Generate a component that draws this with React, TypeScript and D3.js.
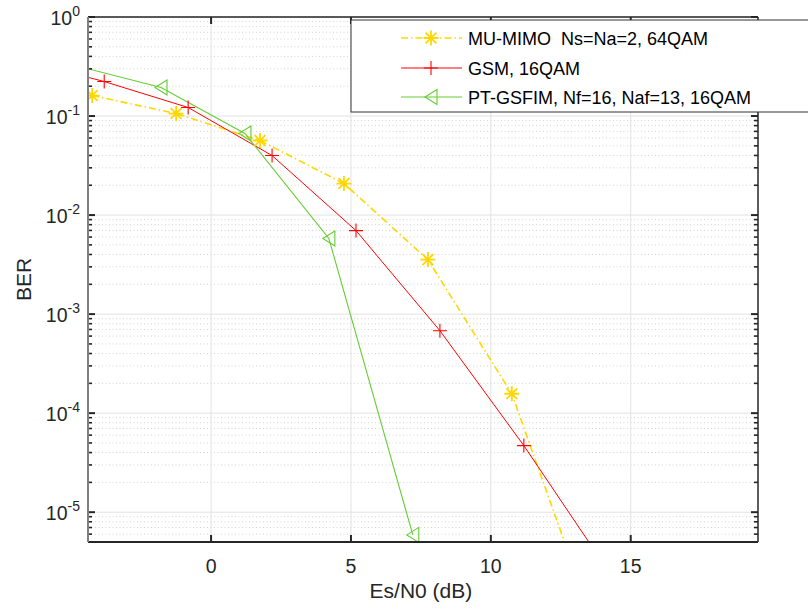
import React from "react";
import * as d3 from "d3";

// ---- data ----
const snrMU = [-4.25, -1.25, 1.75, 4.75, 7.75, 10.75, 13.75];
const berMU = [0.161, 0.106, 0.0566, 0.0208, 0.00355, 1.57e-4, 6.5e-7];

const snrGSM = [-6.82, -3.82, -0.82, 2.18, 5.18, 8.18, 11.18, 14.18];
const berGSM = [0.37, 0.223, 0.122, 0.0399, 0.00697, 6.8e-4, 4.7e-5, 2.6e-6];

const snrPT = [-4.79, -1.79, 1.21, 4.21, 7.21];
const berPT = [0.32, 0.194, 0.0666, 0.0058, 5.9e-6];

const xTicks = [0, 5, 10, 15];
const yExps = [0, -1, -2, -3, -4, -5];
const legendLabels = [
  "MU-MIMO  Ns=Na=2, 64QAM",
  "GSM, 16QAM",
  "PT-GSFIM, Nf=16, Naf=13, 16QAM",
];

const W = 808;
const H = 610;
const L = 88, R = 758, T = 17, B = 542;
const FONT = "'Liberation Sans', Arial, Helvetica, sans-serif";

const x = d3.scaleLinear().domain([-4.4, 19.55]).range([L, R]);
const y = d3.scaleLog().domain([5e-6, 1]).range([B, T]);

const YELLOW = "#FFD700";
const RED = "#FF0000";
const GREEN = "#66CC33";

function starPath(r: number) {
  const d = r * 0.72;
  return `M${-r},0H${r}M0,${-r}V${r}M${-d},${-d}L${d},${d}M${-d},${d}L${d},${-d}`;
}
function plusPath(r: number) {
  return `M${-r},0H${r}M0,${-r}V${r}`;
}
function triLeftPath() {
  return `M-6,0L6,-7.5L6,7.5Z`;
}

type Series = {
  xs: number[];
  ys: number[];
  color: string;
  dash?: string;
  width: number;
  marker: string;
  mfill: string;
  mwidth: number;
};

const series: Series[] = [
  { xs: snrMU, ys: berMU, color: YELLOW, dash: "7,3,1.5,3", width: 1.6, marker: starPath(7.5), mfill: "none", mwidth: 1.8 },
  { xs: snrGSM, ys: berGSM, color: RED, width: 1, marker: plusPath(7), mfill: "none", mwidth: 1.1 },
  { xs: snrPT, ys: berPT, color: GREEN, width: 1.1, marker: triLeftPath(), mfill: "none", mwidth: 1.1 },
];

export default function App() {
  const line = d3
    .line<[number, number]>()
    .x((d) => x(d[0]))
    .y((d) => y(d[1]));

  const minor: number[] = [];
  for (let e = -6; e <= 0; e++) {
    for (let m = 2; m <= 9; m++) {
      const v = m * Math.pow(10, e);
      if (v >= 5e-6 && v <= 1) minor.push(v);
    }
  }

  const legX0 = 351, legY0 = 20, legY1 = 112;
  const rowY = [38, 68, 97];

  return (
    <div style={{ position: "absolute", left: 0, top: 0 }}>
      <svg width={W} height={H} style={{ display: "block", background: "#fff" }} fontFamily={FONT}>
        <defs>
          <clipPath id="plotclip">
            <rect x={L} y={T} width={R - L} height={B - T} />
          </clipPath>
        </defs>
        <rect x={0} y={0} width={W} height={H} fill="#fff" />
        {minor.map((v, i) => (
          <line key={"mg" + i} x1={L} x2={R} y1={y(v)} y2={y(v)} stroke="#c8c8c8" strokeWidth={0.8} strokeDasharray="1,2.5" />
        ))}
        {yExps.map((e) => (
          <line key={"yg" + e} x1={L} x2={R} y1={y(Math.pow(10, e))} y2={y(Math.pow(10, e))} stroke="#e2e2e2" strokeWidth={1} />
        ))}
        {xTicks.map((t) => (
          <line key={"xg" + t} x1={x(t)} x2={x(t)} y1={T} y2={B} stroke="#e2e2e2" strokeWidth={1} />
        ))}

        <g clipPath="url(#plotclip)">
          {series.map((s, i) => (
            <path
              key={"l" + i}
              d={line(s.xs.map((v, j) => [v, s.ys[j]] as [number, number])) || ""}
              fill="none"
              stroke={s.color}
              strokeWidth={s.width}
              strokeDasharray={s.dash}
            />
          ))}
          {series.map((s, i) =>
            s.xs.map((v, j) => (
              <path
                key={"m" + i + "-" + j}
                d={s.marker}
                transform={`translate(${x(v)},${y(s.ys[j])})`}
                fill={s.mfill}
                stroke={s.color}
                strokeWidth={s.mwidth}
              />
            ))
          )}
        </g>

        {yExps.map((e) => {
          const yy = y(Math.pow(10, e));
          return (
            <g key={"yt" + e}>
              <line x1={L} x2={L + 7} y1={yy} y2={yy} stroke="#262626" strokeWidth={2} />
              <line x1={R} x2={R - 7} y1={yy} y2={yy} stroke="#262626" strokeWidth={2} />
            </g>
          );
        })}
        {minor.map((v, i) => (
          <g key={"ymt" + i}>
            <line x1={L} x2={L + 4} y1={y(v)} y2={y(v)} stroke="#262626" strokeWidth={1.6} />
            <line x1={R} x2={R - 4} y1={y(v)} y2={y(v)} stroke="#262626" strokeWidth={1.6} />
          </g>
        ))}
        {xTicks.map((t) => (
          <g key={"xt" + t}>
            <line x1={x(t)} x2={x(t)} y1={B} y2={B - 7} stroke="#262626" strokeWidth={2} />
            <line x1={x(t)} x2={x(t)} y1={T} y2={T + 7} stroke="#262626" strokeWidth={2} />
          </g>
        ))}

        <line x1={L} x2={R} y1={B} y2={B} stroke="#262626" strokeWidth={2} />
        <line x1={L} x2={R} y1={T} y2={T} stroke="#262626" strokeWidth={1.5} />
        <line x1={L} x2={L} y1={T} y2={B} stroke="#808080" strokeWidth={2} />
        <line x1={R} x2={R} y1={T} y2={B} stroke="#262626" strokeWidth={1.5} />

        {xTicks.map((t) => (
          <text key={"xl" + t} x={x(t)} y={573} textAnchor="middle" fontSize={19.5} fill="#262626">
            {t}
          </text>
        ))}
        {yExps.map((e) => (
          <text key={"yl" + e} x={80} y={y(Math.pow(10, e)) + 7.5} textAnchor="end" fontSize={19.5} fill="#262626">
            10
            <tspan dy={-9} fontSize={14}>
              {e}
            </tspan>
          </text>
        ))}

        <text x={x(7.5)} y={598} textAnchor="middle" fontSize={21} fill="#262626">
          Es/N0 (dB)
        </text>
        <text transform={`translate(31,${(T + B) / 2}) rotate(-90)`} textAnchor="middle" fontSize={21} fill="#262626">
          BER
        </text>

        <rect x={legX0} y={legY0} width={W - legX0 + 10} height={legY1 - legY0} fill="#fff" stroke="#333" strokeWidth={1} />
        {series.map((s, i) => (
          <g key={"lg" + i}>
            <line x1={401} x2={462} y1={rowY[i]} y2={rowY[i]} stroke={s.color} strokeWidth={s.width} strokeDasharray={s.dash} />
            <path d={s.marker} transform={`translate(431,${rowY[i]})`} fill={s.mfill} stroke={s.color} strokeWidth={s.mwidth} />
            <text x={468} y={rowY[i] + 6.5} fontSize={18} fill="#000" style={{ whiteSpace: "pre" }}>
              {legendLabels[i]}
            </text>
          </g>
        ))}
      </svg>
    </div>
  );
}
